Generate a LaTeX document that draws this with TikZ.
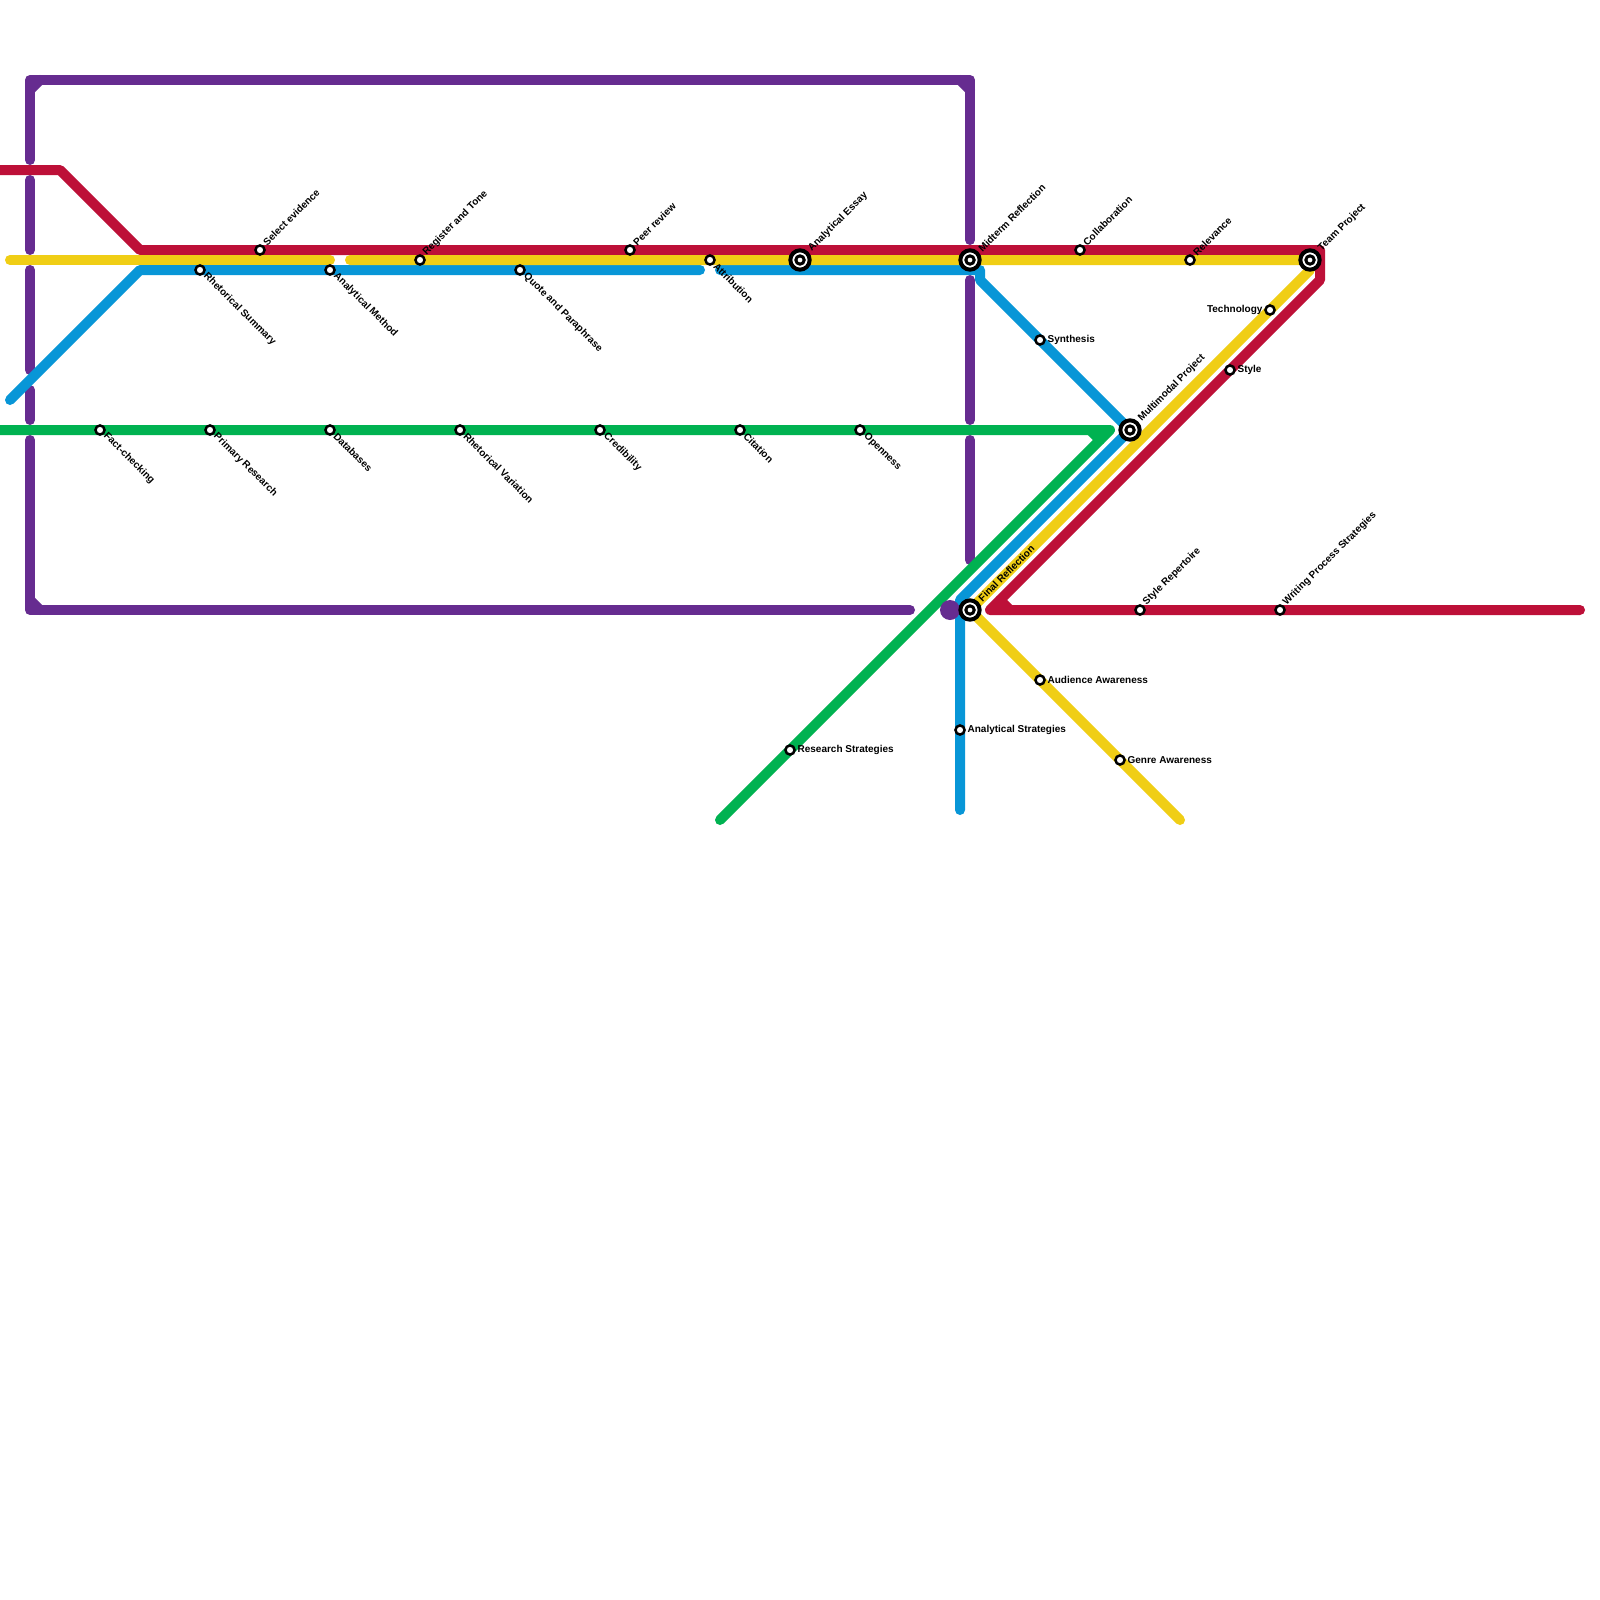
\documentclass[tikz,border=0pt]{standalone}
\usepackage{fontspec}
\setmainfont{Liberation Sans}
\usepackage{tikz}
\usetikzlibrary{positioning}
\definecolor{mred}{HTML}{BD1038}
\definecolor{myellow}{HTML}{F0CE15}
\definecolor{mblue}{HTML}{0896D7}
\definecolor{mgreen}{HTML}{00B251}
\definecolor{mpurple}{HTML}{662C90}
\tikzset{
 route/.style={line width=5pt,line cap=round,line join=round},
 stn/.style={circle,draw=black,fill=white,line width=1.25pt,minimum size=4.55pt,inner sep=0pt,outer sep=0pt},
 hub/.style={circle,draw=black,fill=white,line width=2pt,minimum size=9.67pt,inner sep=0pt,outer sep=0pt},
 hubcore/.style={circle,draw=black,fill=white,line width=1.5pt,minimum size=4.18pt,inner sep=0pt,outer sep=0pt},
 lbl/.style={font=\fontsize{5}{6}\selectfont\bfseries,inner sep=0pt,text=black},
 lblup/.style={lbl,anchor=west,xshift=2.25pt,yshift=3pt,rotate=45},
 lbldn/.style={lbl,anchor=west,xshift=2.5pt,yshift=-2.25pt,rotate=-45},
 lblhub/.style={lbl,anchor=west,xshift=4.9pt,yshift=5pt,rotate=45},
 lblrt/.style={lbl,anchor=west,xshift=3.6pt},
 lbllf/.style={lbl,anchor=east,xshift=-3.6pt},
}
\begin{document}
\begin{tikzpicture}[x=0.5pt,y=-0.5pt]
 \useasboundingbox (0,0) rectangle (1600,1600);
 \fill[white] (0,0) rectangle (1600,1600);
 \begin{scope}
  \clip (0,0) rectangle (1600,1600);
  \draw[route,mpurple] (30,160) -- (30,80) -- (970,80) -- (970,240);
  \draw[route,mpurple] (30,90) -- (40,80) (960,80) -- (970,90);
  \draw[route,mpurple] (30,180) -- (30,250) (30,270) -- (30,370) (30,390) -- (30,420);
  \draw[route,mpurple] (30,440) -- (30,610) -- (910,610);
  \draw[route,mpurple] (30,600) -- (40,610);
  \draw[route,mpurple] (970,280) -- (970,420) (970,440) -- (970,560);
  \draw[route,mgreen] (-20,430) -- (1110,430) -- (720,820);
  \draw[route,mgreen] (1090,430) -- (1100,440);
  \draw[route,mblue] (10,400) -- (140,270) -- (700,270);
  \draw[route,mblue] (720,270) -- (980,270) -- (980,280) -- (1130,430) -- (960,600) -- (960,810);
  \draw[route,mred] (-20,170) -- (60,170) -- (140,250) -- (1320,250) -- (1320,280) -- (990,610) -- (1580,610);
  \draw[route,mred] (1000,600) -- (1010,610);
  \draw[route,myellow] (10,260) -- (330,260);
  \draw[route,myellow] (350,260) -- (1310,260) -- (1310,270) -- (970,610) -- (1180,820);
  \fill[mpurple] (950,610) circle[radius=10];
 \end{scope}
 \foreach \nm/\cx/\cy/\txt in {select/260/250/Select evidence,register/420/260/Register and Tone,peer/630/250/Peer review,collab/1080/250/Collaboration,relev/1190/260/Relevance,stylerep/1140/610/Style Repertoire,writing/1280/610/Writing Process Strategies}{
  \node[stn] (\nm) at (\cx,\cy) {};
  \node[lblup] (\nm-l) at (\cx,\cy) {\txt};
 }
 \foreach \nm/\cx/\cy/\txt in {summary/200/270/Rhetorical Summary,method/330/270/Analytical Method,quote/520/270/Quote and Paraphrase,attrib/710/260/Attribution,fact/100/430/Fact-checking,primary/210/430/Primary Research,databases/330/430/Databases,variation/460/430/Rhetorical Variation,cred/600/430/Credibility,citation/740/430/Citation,open/860/430/Openness}{
  \node[stn] (\nm) at (\cx,\cy) {};
  \node[lbldn] (\nm-l) at (\cx,\cy) {\txt};
 }
 \foreach \nm/\cx/\cy/\txt in {synth/1040/340/Synthesis,style/1230/370/Style,audience/1040/680/Audience Awareness,genre/1120/760/Genre Awareness,anstrat/960/730/Analytical Strategies,research/790/750/Research Strategies}{
  \node[stn] (\nm) at (\cx,\cy) {};
  \node[lblrt] (\nm-l) at (\cx,\cy) {\txt};
 }
 \node[stn] (tech) at (1270,310) {};
 \node[lbllf] (tech-l) at (1270,310) {Technology};
 \foreach \nm/\cx/\cy/\txt in {essay/800/260/Analytical Essay,midterm/970/260/Midterm Reflection,multi/1130/430/Multimodal Project,final/970/610/Final Reflection,team/1310/260/Team Project}{
  \node[hub] (\nm) at (\cx,\cy) {};
  \node[hubcore] (\nm-c) at (\cx,\cy) {};
  \node[lblhub] (\nm-l) at (\cx,\cy) {\txt};
 }
\end{tikzpicture}
\end{document}
